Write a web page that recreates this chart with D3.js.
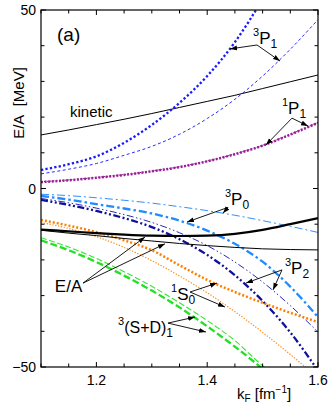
<!DOCTYPE html>
<html><head><meta charset="utf-8">
<script src="https://cdn.jsdelivr.net/npm/d3@7"></script>
<style>body{margin:0;background:#fff}svg{display:block}text{font-family:"Liberation Sans",Arial,sans-serif}</style>
</head><body><svg id="c" width="332" height="412"></svg>
<script>
// ---- data ----
const kF = [1.10,1.15,1.20,1.25,1.30,1.35,1.40,1.45,1.50,1.55,1.60];
const kinetic   = [15.0,16.4,17.9,19.4,21.0,22.7,24.4,26.1,28.0,29.9,31.8];
const p31Thick  = [5.2,6.8,9.0,12.8,17.8,24.0,31.5,41.0,53.0,null,null];
const p31Thin   = [4.1,5.4,7.0,9.3,11.8,15.2,19.6,25.0,31.5,39.0,47.3];
const p11Thick  = [1.8,2.3,3.0,3.8,4.8,6.0,7.6,9.6,12.0,15.1,18.4];
const p11Thin   = [1.9,2.4,3.1,3.9,4.9,6.1,7.7,9.7,12.1,15.2,18.5];
const p30Thin   = [-1.6,-2.0,-2.6,-3.3,-4.1,-5.1,-6.2,-7.5,-9.0,-10.6,-12.3];
const p30Thick  = [-2.1,-3.1,-4.4,-5.6,-7.0,-9.0,-11.8,-15.5,-20.5,-27.5,-36.0];
const p32Thick  = [-3.2,-4.6,-6.3,-8.3,-10.8,-14.2,-18.6,-24.3,-31.5,-40.3,-51.0];
const p32Thin   = [-2.8,-4.0,-5.5,-7.3,-9.5,-12.4,-16.0,-20.6,-26.2,-32.8,-40.2];
const s10Thick  = [-8.8,-10.4,-12.2,-14.5,-17.3,-21.5,-25.6,-29.0,-32.0,-34.8,-37.4];
const s10Thin   = [-9.5,-11.2,-13.5,-16.5,-20.2,-24.5,-29.2,-34.5,-40.3,-46.5,-53.0];
const sd1Thick  = [-14.5,-17.3,-20.6,-24.4,-28.6,-33.3,-38.6,-44.3,-50.5,null,null];
const sd1Thin   = [-13.8,-16.4,-19.6,-23.3,-27.4,-32.0,-37.0,-42.6,-49.6,-55.0,null];
const eaThick   = [-11.5,-12.0,-12.5,-12.9,-13.2,-13.3,-13.2,-12.7,-11.6,-10.0,-8.3];
const eaThin    = [-11.7,-12.5,-13.2,-14.0,-14.7,-15.4,-16.0,-16.5,-16.9,-17.1,-17.2];
const xTickLabels = [1.2,1.4,1.6];
const yTickLabels = [50,0,-50];

// ---- layout ----
const svg = d3.select("#c");
const L=41,R=318,T=10,B=367;
const x = d3.scaleLinear().domain([1.1,1.6]).range([L,R]);
const y = d3.scaleLinear().domain([-50,50]).range([B,T]);

const series = [
  {v:kinetic,  c:"#000", w:1,   d:null},
  {v:p31Thin,  c:"#2a2aff", w:1, d:"3,2.5"},
  {v:p31Thick, c:"#1a1aff", w:2.3, d:"2.3,2.2"},
  {v:p11Thin,  c:"#8e1a8e", w:1, d:"1.5,1.5"},
  {v:p11Thick, c:"#991f99", w:2.5, d:"2,1.6"},
  {v:p30Thin,  c:"#2f8fff", w:1, d:"8,3,2,3"},
  {v:p30Thick, c:"#1e8cff", w:2.3, d:"8,3,2.5,3"},
  {v:p32Thin,  c:"#2a2ab8", w:1, d:"7,2.5,1.5,2.5,1.5,2.5"},
  {v:p32Thick, c:"#10109a", w:2.3, d:"7,2.5,2,2.5,2,2.5"},
  {v:s10Thin,  c:"#ff8c1a", w:1.2, d:"1.3,1.6"},
  {v:s10Thick, c:"#ff8000", w:2.5, d:"2,2"},
  {v:sd1Thin,  c:"#33e633", w:1.1, d:"6,2.5"},
  {v:sd1Thick, c:"#22e022", w:2.3, d:"7,3"},
  {v:eaThin,   c:"#000", w:1, d:null},
  {v:eaThick,  c:"#000", w:2.2, d:null}
];

svg.append("defs").append("clipPath").attr("id","clip")
  .append("rect").attr("x",L).attr("y",T).attr("width",R-L).attr("height",B-T);
svg.select("defs").append("marker").attr("id","ah")
  .attr("viewBox","0 0 10 10").attr("refX",10).attr("refY",5)
  .attr("markerWidth",7).attr("markerHeight",7).attr("markerUnits","userSpaceOnUse")
  .attr("orient","auto")
  .append("path").attr("d","M0,1.5 L10,5 L0,8.5 Z").attr("fill","#000");

const line = d3.line().defined(d=>d[1]!=null).x(d=>x(d[0])).y(d=>y(d[1])).curve(d3.curveMonotoneX);
const g = svg.append("g").attr("clip-path","url(#clip)");
series.forEach(s=>{
  g.append("path").attr("d", line(kF.map((k,i)=>[k,s.v[i]])))
   .attr("fill","none").attr("stroke",s.c).attr("stroke-width",s.w)
   .attr("stroke-dasharray",s.d);
});

// ---- frame & ticks ----
svg.append("rect").attr("x",L).attr("y",T).attr("width",R-L).attr("height",B-T)
  .attr("fill","none").attr("stroke","#000").attr("stroke-width",1.2);
const xt = d3.range(1.1,1.6001,0.05);
xt.forEach(t=>{
  const major = xTickLabels.some(m=>Math.abs(m-t)<1e-6);
  const len = major?5:3.5;
  svg.append("line").attr("x1",x(t)).attr("x2",x(t)).attr("y1",B).attr("y2",B-len).attr("stroke","#000");
  svg.append("line").attr("x1",x(t)).attr("x2",x(t)).attr("y1",T).attr("y2",T+len).attr("stroke","#000");
});
const yt = d3.range(-50,50.001,10);
yt.forEach(t=>{
  const major = yTickLabels.includes(Math.round(t));
  const len = major?5:3.5;
  svg.append("line").attr("x1",L).attr("x2",L+len).attr("y1",y(t)).attr("y2",y(t)).attr("stroke","#000");
  svg.append("line").attr("x1",R).attr("x2",R-len).attr("y1",y(t)).attr("y2",y(t)).attr("stroke","#000");
});
xTickLabels.forEach(t=>{
  svg.append("text").attr("x",x(t)).attr("y",385).attr("text-anchor","middle")
    .attr("font-size",14).text(d3.format(".1f")(t));
});
yTickLabels.forEach(t=>{
  svg.append("text").attr("x",36).attr("y",y(t)+5).attr("text-anchor","end")
    .attr("font-size",14).text(t<0?"\u2212"+Math.abs(t):String(t));
});

// axis titles
const yl = svg.append("text").attr("transform","translate(24,103) rotate(-90)")
  .attr("text-anchor","middle").attr("font-size",15);
yl.text("E/A\u00a0\u00a0[MeV]");
const xl = svg.append("text").attr("x",237).attr("y",399).attr("font-size",15);
xl.append("tspan").text("k");
xl.append("tspan").attr("font-size",10).attr("dy",3).text("F");
xl.append("tspan").attr("dy",-3).text(" [fm");
xl.append("tspan").attr("font-size",10).attr("dy",-6).text("\u22121");
xl.append("tspan").attr("dy",6).text("]");

// ---- annotations (data coordinates) ----
function label(k,v,sup,main,sub,fs){
  const t = svg.append("text").attr("x",x(k)).attr("y",y(v)).attr("font-size",fs||17);
  if(sup) t.append("tspan").attr("font-size",11).attr("dy",-8).text(sup);
  t.append("tspan").attr("dy",sup?8:0).text(main);
  if(sub) t.append("tspan").attr("font-size",12).attr("dy",4).text(sub);
}
function arrow(k0,v0,k1,v1){
  svg.append("line").attr("x1",x(k0)).attr("y1",y(v0)).attr("x2",x(k1)).attr("y2",y(v1))
    .attr("stroke","#000").attr("stroke-width",0.9).attr("marker-end","url(#ah)");
}
svg.append("text").attr("x",x(1.1289)).attr("y",y(41.3)).attr("font-size",19).text("(a)");
svg.append("text").attr("x",x(1.1523)).attr("y",y(20.0)).attr("font-size",15).text("kinetic");

label(1.4827,40.4,"3","P","1");
arrow(1.4899,40.2,1.4412,39.1); arrow(1.4899,40.2,1.5314,35.7);

label(1.5350,20.9,"1","P","1");
arrow(1.5530,19.7,1.5060,12.2); arrow(1.5530,19.7,1.5820,17.5);

label(1.4320,-4.6,"3","P","0");
arrow(1.4375,-5.3,1.3635,-9.4); arrow(1.4375,-5.3,1.4285,-6.9);

svg.append("text").attr("x",x(1.125)).attr("y",y(-29.0)).attr("font-size",17).text("E/A");
arrow(1.1758,-26.5,1.2877,-13.6); arrow(1.1758,-26.5,1.3238,-15.5);

label(1.5404,-24.0,"3","P","2");
arrow(1.5350,-22.8,1.4700,-26.5); arrow(1.5350,-22.8,1.5188,-28.4);

label(1.3347,-31.1,"1","S","0");
arrow(1.3690,-29.0,1.4177,-26.5); arrow(1.3690,-29.0,1.4321,-33.2);

label(1.2390,-40.6,"3","(S+D)","1",16);
arrow(1.3292,-37.7,1.3780,-36.0); arrow(1.3292,-37.7,1.3978,-40.2);
</script></body></html>
